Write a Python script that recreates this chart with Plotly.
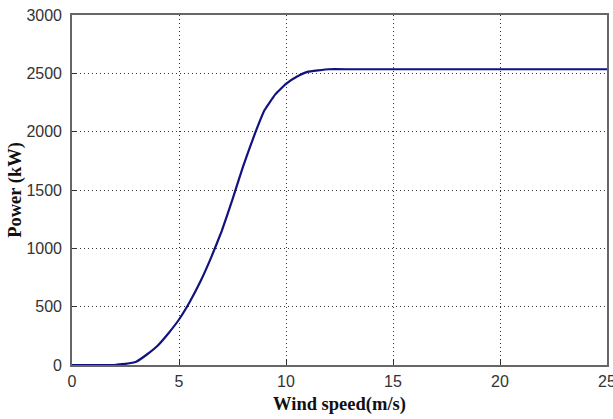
import plotly.graph_objects as go

wind_speed = [0, 1, 2, 2.2, 2.5, 3, 3.5, 4, 4.5, 5, 5.5, 6, 6.5, 7, 7.5, 8, 8.5, 9, 9.5, 10, 10.5, 11, 11.5, 12, 13, 15, 20, 25]
power_kw = [0, 0, 0, 5, 10, 28, 90, 165, 270, 390, 540, 715, 920, 1150, 1420, 1705, 1960, 2185, 2320, 2410, 2470, 2512, 2525, 2535, 2535, 2535, 2535, 2535]

fig = go.Figure()
fig.add_trace(go.Scatter(x=wind_speed, y=power_kw, mode="lines",
                         line=dict(color="#12127f", width=2.2, shape="spline", smoothing=0.3),
                         hoverinfo="skip", showlegend=False))

tick_font = dict(family="Liberation Sans Narrow, Arial Narrow, Liberation Sans", size=16, color="#333333")
title_font = dict(family="Liberation Serif, Times New Roman", size=18.5, color="#111111", weight="bold")

axis_common = dict(showgrid=True, gridcolor="#333333", griddash="1px,3px", gridwidth=1,
                   showline=True, linecolor="#666666", linewidth=1.6, mirror=True,
                   ticks="inside", ticklen=5, tickcolor="#333333", zeroline=False,
                   automargin=False, tickfont=tick_font, ticklabeloverflow="allow")

fig.update_xaxes(range=[0, 25], tickvals=[0, 5, 10, 15, 20, 25], ticklabelstandoff=1,
                 title=dict(text="Wind speed(m/s)", standoff=8, font=title_font),
                 **axis_common)
fig.update_yaxes(range=[0, 3000], tickvals=[0, 500, 1000, 1500, 2000, 2500, 3000], ticklabelstandoff=5,
                 title=dict(text="Power (kW)", standoff=0, font=title_font),
                 **axis_common)

fig.update_layout(width=613, height=419, margin=dict(l=72, r=6, t=15, b=54),
                  paper_bgcolor="white", plot_bgcolor="white")
fig.write_html("out.html", config={"displayModeBar": False},
               post_script="document.body.style.margin='0';document.body.style.overflow='hidden';")
